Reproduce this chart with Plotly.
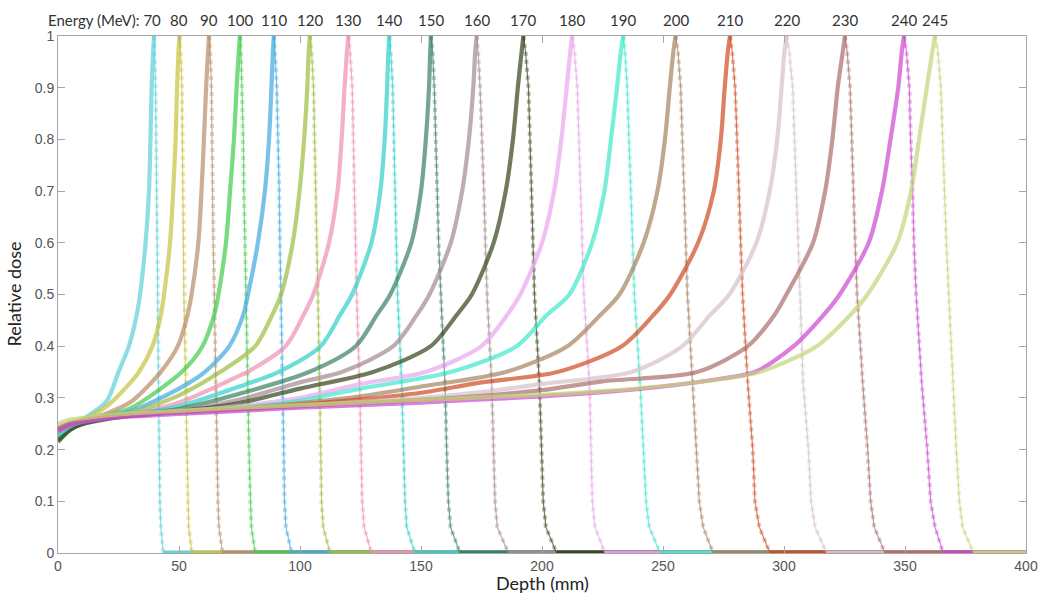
import plotly.graph_objects as go

# ---------------- data ----------------
ENERGIES = [70, 80, 90, 100, 110, 120, 130, 140, 150, 160,
            170, 180, 190, 200, 210, 220, 230, 240, 245]

COLORS = ['#5fcfd6', '#c7c23c', '#b88d68', '#3fcc4a', '#3fa9e0', '#9cbd3e',
          '#f08fb5', '#2fd0c8', '#3a8060', '#a38a94', '#34441a', '#eba4ee',
          '#3fe8cc', '#a4845f', '#d04a22', '#d6c0cb', '#ab6d6b', '#cc46d2',
          '#c4d57a']

# entrance / plateau region: depths shared, doses per energy (as many as apply)
PLATEAU_DEPTHS = [0, 2, 5, 10, 20, 30, 50, 75, 100, 125, 150, 175, 200, 225, 250, 275]
PLATEAU_DOSES = [
    [0.225, 0.232, 0.243, 0.258, 0.293],
    [0.230, 0.236, 0.246, 0.256, 0.283, 0.330],
    [0.228, 0.235, 0.245, 0.254, 0.270, 0.292],
    [0.220, 0.228, 0.240, 0.252, 0.266, 0.280],
    [0.225, 0.232, 0.243, 0.253, 0.264, 0.274, 0.318],
    [0.232, 0.238, 0.247, 0.255, 0.264, 0.271, 0.305],
    [0.235, 0.241, 0.249, 0.256, 0.264, 0.269, 0.291, 0.343],
    [0.225, 0.233, 0.244, 0.253, 0.262, 0.268, 0.284, 0.322],
    [0.218, 0.227, 0.239, 0.250, 0.260, 0.267, 0.279, 0.308],
    [0.230, 0.237, 0.246, 0.254, 0.262, 0.267, 0.276, 0.297, 0.330],
    [0.215, 0.225, 0.238, 0.249, 0.259, 0.265, 0.274, 0.290, 0.318],
    [0.235, 0.241, 0.249, 0.256, 0.263, 0.268, 0.274, 0.284, 0.300, 0.327],
    [0.228, 0.235, 0.245, 0.254, 0.262, 0.267, 0.273, 0.281, 0.295, 0.318],
    [0.240, 0.245, 0.251, 0.257, 0.263, 0.267, 0.273, 0.280, 0.290, 0.303, 0.322],
    [0.238, 0.244, 0.250, 0.256, 0.263, 0.267, 0.273, 0.279, 0.287, 0.297, 0.310, 0.330],
    [0.245, 0.249, 0.254, 0.258, 0.264, 0.268, 0.273, 0.279, 0.285, 0.292, 0.300, 0.311, 0.327],
    [0.240, 0.245, 0.251, 0.256, 0.263, 0.267, 0.272, 0.278, 0.284, 0.290, 0.296, 0.304, 0.315, 0.332],
    [0.235, 0.240, 0.247, 0.253, 0.260, 0.264, 0.269, 0.275, 0.281, 0.286, 0.291, 0.297, 0.303, 0.311, 0.322, 0.338],
    [0.250, 0.254, 0.258, 0.261, 0.266, 0.270, 0.275, 0.281, 0.286, 0.291, 0.296, 0.301, 0.306, 0.313, 0.323, 0.337],
]

# proximal (rising) edge: depth (mm) where each dose level is crossed; last = peak
RISE_LEVELS = [0.35, 0.40, 0.46, 0.50, 0.60, 0.70, 0.80, 0.90, 0.97, 1.00]
RISE_DEPTHS = [
    [25.0, 29.3, 32.5, 33.9, 36.2, 37.6, 38.2, 38.7, 39.3, 39.7],
    [33.4, 39.0, 42.5, 43.8, 46.3, 47.6, 48.6, 49.2, 49.8, 50.2],
    [42.4, 49.5, 53.5, 55.2, 58.0, 59.3, 60.3, 61.2, 62.0, 62.4],
    [51.1, 59.7, 64.5, 66.3, 69.4, 71.1, 72.7, 73.8, 74.7, 75.2],
    [60.6, 70.8, 76.5, 78.5, 82.6, 85.5, 87.2, 88.2, 88.8, 89.2],
    [67.0, 81.5, 88.5, 92.2, 97.0, 99.8, 101.7, 103.0, 103.6, 104.1],
    [78.2, 94.0, 101.4, 105.5, 112.0, 115.5, 117.2, 118.4, 119.4, 120.0],
    [91.0, 108.5, 116.5, 121.5, 129.5, 133.2, 135.0, 136.0, 136.5, 136.9],
    [103.7, 123.0, 131.7, 137.3, 146.0, 150.0, 152.0, 153.3, 153.8, 154.1],
    [117.2, 138.5, 148.2, 153.5, 162.3, 167.0, 169.8, 171.6, 172.4, 173.0],
    [130.2, 154.0, 164.7, 171.0, 180.0, 185.0, 188.0, 190.0, 191.6, 192.3],
    [151.8, 175.0, 185.5, 191.0, 200.0, 205.0, 208.0, 210.2, 211.7, 212.5],
    [162.3, 189.5, 201.9, 211.3, 220.7, 225.8, 228.5, 231.0, 232.6, 233.6],
    [185.0, 210.5, 224.0, 232.0, 242.0, 247.7, 250.8, 252.8, 254.3, 255.2],
    [206.4, 233.0, 246.0, 253.0, 264.5, 271.0, 273.9, 275.5, 276.8, 277.7],
    [237.0, 258.0, 269.4, 277.4, 288.6, 294.1, 297.2, 299.0, 300.2, 301.1],
    [264.0, 285.0, 296.0, 301.0, 312.0, 317.0, 320.0, 322.2, 324.3, 325.2],
    [288.0, 304.0, 316.3, 323.0, 335.0, 340.5, 344.0, 347.2, 348.7, 349.6],
    [290.0, 313.5, 327.3, 334.5, 346.8, 352.5, 355.8, 359.0, 361.3, 362.4],
]

# distal fall-off: depth (mm) where each dose level is crossed
FALL_LEVELS = [0.97, 0.90, 0.80, 0.70, 0.60, 0.50, 0.33, 0.20, 0.10, 0.05, 0.0]
FALL_DEPTHS = [
    [40.0, 40.3, 40.6, 40.8, 40.95, 41.2, 41.5, 41.8, 42.1, 42.5, 43.5],
    [50.7, 51.2, 51.5, 51.6, 51.8, 52.0, 52.7, 53.2, 53.6, 54.0, 55.3],
    [62.9, 63.4, 63.6, 63.8, 64.1, 64.6, 65.2, 65.6, 66.1, 66.5, 68.0],
    [75.6, 76.0, 76.6, 76.8, 77.3, 77.7, 78.4, 78.9, 79.4, 79.9, 81.5],
    [89.7, 90.4, 91.0, 91.4, 91.7, 92.0, 92.8, 93.3, 93.6, 94.2, 96.5],
    [104.8, 105.6, 106.1, 106.5, 106.9, 107.4, 108.1, 108.5, 108.9, 109.6, 112.4],
    [120.7, 121.6, 122.0, 122.5, 122.9, 123.4, 124.6, 125.2, 125.7, 126.5, 129.5],
    [137.5, 138.3, 138.8, 139.3, 139.7, 140.3, 142.0, 142.7, 143.4, 144.1, 147.5],
    [154.8, 155.5, 156.0, 156.6, 157.3, 158.2, 159.9, 160.6, 161.3, 162.2, 166.1],
    [173.6, 174.4, 175.3, 176.0, 176.6, 177.3, 179.2, 179.9, 180.6, 181.5, 186.1],
    [193.2, 194.4, 195.0, 195.7, 196.2, 196.9, 198.9, 199.9, 200.5, 201.6, 206.0],
    [213.4, 214.6, 215.3, 216.0, 216.6, 217.3, 219.6, 220.2, 220.8, 221.9, 226.0],
    [234.3, 235.2, 236.0, 236.7, 237.4, 238.2, 240.5, 241.9, 243.0, 244.3, 248.8],
    [256.2, 257.3, 258.1, 258.7, 259.4, 260.1, 262.3, 263.9, 265.0, 266.6, 270.7],
    [278.6, 279.8, 280.7, 281.4, 282.1, 282.9, 285.0, 287.1, 288.0, 289.8, 294.2],
    [302.2, 303.6, 304.3, 305.0, 305.7, 306.4, 307.9, 310.1, 311.2, 312.8, 317.6],
    [326.1, 327.3, 327.9, 328.6, 329.4, 330.2, 332.5, 334.6, 335.8, 337.3, 341.7],
    [350.6, 351.8, 352.3, 353.2, 353.7, 354.6, 356.9, 359.2, 360.6, 362.4, 365.8],
    [363.6, 364.8, 365.5, 366.2, 367.1, 368.1, 369.7, 371.2, 372.5, 373.8, 378.3],
]

# zero-dose tail reaches the end of the depth axis
TAIL_DEPTH = 400
TAIL_DOSE = 0.0

X_TICKS = [0, 50, 100, 150, 200, 250, 300, 350, 400]
Y_TICKS = [0, 0.1, 0.2, 0.3, 0.4, 0.5, 0.6, 0.7, 0.8, 0.9, 1]

# ---------------- figure ----------------
fig = go.Figure()
label_font = dict(family='Lato, Open Sans, sans-serif', size=15, color='#333333')

for i, energy in enumerate(ENERGIES):
    n = len(PLATEAU_DOSES[i])
    # proximal part: entrance plateau + rising edge up to the peak
    px = PLATEAU_DEPTHS[:n] + RISE_DEPTHS[i]
    py = PLATEAU_DOSES[i] + RISE_LEVELS
    # distal part: peak + fall-off
    dx = RISE_DEPTHS[i][-1:] + FALL_DEPTHS[i]
    dy = RISE_LEVELS[-1:] + FALL_LEVELS
    # zero tail
    tx = FALL_DEPTHS[i][-1:] + [TAIL_DEPTH]
    ty = FALL_LEVELS[-1:] + [TAIL_DOSE]

    fig.add_trace(go.Scatter(x=px, y=py, mode='lines', name=f'{energy} MeV',
                             line=dict(color=COLORS[i], width=4.2, shape='spline', smoothing=0.8),
                             opacity=0.7, showlegend=False, hoverinfo='skip'))
    fig.add_trace(go.Scatter(x=dx, y=dy, mode='lines', name=f'{energy} MeV',
                             line=dict(color=COLORS[i], width=1.2),
                             opacity=0.7, showlegend=False, hoverinfo='skip'))
    fig.add_trace(go.Scatter(x=dx, y=dy, mode='lines', name=f'{energy} MeV',
                             line=dict(color=COLORS[i], width=4, dash='dot'),
                             opacity=0.35, showlegend=False, hoverinfo='skip'))
    fig.add_trace(go.Scatter(x=tx, y=ty, mode='lines', name=f'{energy} MeV',
                             line=dict(color=COLORS[i], width=5),
                             opacity=0.95, showlegend=False, hoverinfo='skip'))

    # energy label above the peak of each curve
    peak_depth = px[py.index(max(py))]
    if i == 0:
        fig.add_annotation(x=peak_depth, xref='x', y=1, yref='paper',
                           text=f'Energy (MeV): {energy}', showarrow=False,
                           xanchor='right', xshift=9, yanchor='middle', yshift=16,
                           font=label_font)
    else:
        fig.add_annotation(x=peak_depth, xref='x', y=1, yref='paper',
                           text=str(energy), showarrow=False,
                           xanchor='center', yanchor='middle', yshift=16,
                           font=label_font)

axis_common = dict(showgrid=False, zeroline=False, showline=True,
                   linecolor='#a6a6a6', linewidth=1, mirror='ticks',
                   ticks='inside', ticklen=7, tickcolor='#a6a6a6', tickwidth=1,
                   tickfont=dict(family='Liberation Sans, Arial, sans-serif',
                                 size=14, color='#555555'))

fig.update_xaxes(range=[0, 400], tickvals=X_TICKS, **axis_common)
fig.update_yaxes(range=[0, 1], tickvals=Y_TICKS, **axis_common)

fig.add_annotation(x=0.5, xref='paper', y=0, yref='paper', yshift=-30,
                   text='Depth (mm)', showarrow=False, yanchor='middle',
                   font=dict(family='Lato, Open Sans, sans-serif', size=18, color='#222222'))
fig.add_annotation(x=0, xref='paper', xshift=-45, y=0.5, yref='paper',
                   text='Relative dose', showarrow=False, textangle=-90,
                   xanchor='center', yanchor='middle',
                   font=dict(family='Lato, Open Sans, sans-serif', size=18, color='#222222'))

fig.update_layout(width=1050, height=610, autosize=False,
                  margin=dict(l=58, r=24, t=36, b=57),
                  paper_bgcolor='white', plot_bgcolor='white')

# let the figure fill the page from its top-left corner
fig.write_html('out.html', config={'displayModeBar': False},
               post_script="document.body.style.margin='0px';")
